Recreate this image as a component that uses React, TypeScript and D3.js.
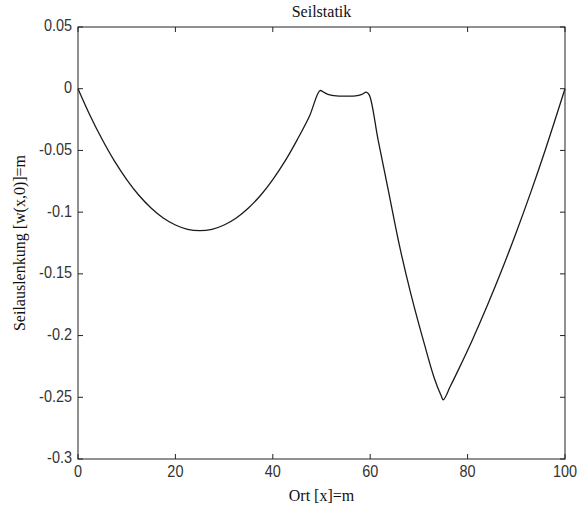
import React from "react";
import * as d3 from "d3";

const TITLE = "Seilstatik";
const X_LABEL = "Ort [x]=m";
const Y_LABEL = "Seilauslenkung [w(x,0)]=m";

const xTicks = [0, 20, 40, 60, 80, 100];
const yTicks = [0.05, 0, -0.05, -0.1, -0.15, -0.2, -0.25, -0.3];
const yTickLabels = ["0.05", "0", "-0.05", "-0.1", "-0.15", "-0.2", "-0.25", "-0.3"];

// cable deflection
const xs = [
  0, 2.5, 5, 7.5, 10, 12.5, 15, 17.5, 20, 22.5, 25, 27.5, 30, 32.5, 35, 37.5, 40, 42.5, 45, 47.5, 49.7,
  50.5, 51.5, 53, 55, 57, 58.3, 59.2, 59.8,
  61.6, 63.7, 66, 68.4, 71.2, 73.2, 74.6, 75,
  76.5, 78, 81, 84, 87, 90, 93, 96, 100,
];
const ws = [
  0, -0.0219, -0.0414, -0.0587, -0.0736, -0.0863, -0.0966, -0.1047, -0.1104, -0.1139, -0.115, -0.1139, -0.1104, -0.1047, -0.0966, -0.0863, -0.0736, -0.0587, -0.0414, -0.0225, -0.0015,
  -0.003, -0.0048, -0.0058, -0.006, -0.0058, -0.0045, -0.0028, -0.005,
  -0.041, -0.082, -0.127, -0.167, -0.208, -0.235, -0.249, -0.252,
  -0.2407, -0.2286, -0.2033, -0.1761, -0.1471, -0.1163, -0.0836, -0.049, 0,
];

export default function App() {
  const W = 579, H = 510;
  const left = 78, right = 565, top = 27, bottom = 459;
  const x = d3.scaleLinear().domain([0, 100]).range([left, right]);
  const y = d3.scaleLinear().domain([-0.3, 0.05]).range([bottom, top]);
  const line = d3.line<number>().x((_, i) => x(xs[i])).y((d) => y(d)).curve(d3.curveCatmullRom.alpha(0.5));
  const tickFont = "'Liberation Sans', Arial, sans-serif";
  const serif = "'Liberation Serif', 'DejaVu Serif', serif";
  const tl = 5;
  return (
    <svg width={W} height={H} style={{ position: "absolute", left: 0, top: 0, background: "#fff" }}>
      <rect x={0} y={0} width={W} height={H} fill="#fff" />
      <path d={line(ws) || ""} fill="none" stroke="#1a1a1a" strokeWidth={1.3} />
      <rect x={left} y={top} width={right - left} height={bottom - top} fill="none" stroke="#222" strokeWidth={1} />
      {xTicks.map((t) => (
        <g key={"x" + t}>
          <line x1={x(t)} x2={x(t)} y1={bottom} y2={bottom - tl} stroke="#222" />
          <line x1={x(t)} x2={x(t)} y1={top} y2={top + tl} stroke="#222" />
          <text
            transform={`translate(${x(t)}, 473) scale(0.85, 1)`}
            textAnchor="middle"
            dominantBaseline="middle"
            fontFamily={tickFont}
            fontSize={17}
            fill="#333"
          >
            {t}
          </text>
        </g>
      ))}
      {yTicks.map((t, i) => (
        <g key={"y" + i}>
          <line x1={left} x2={left + tl} y1={y(t)} y2={y(t)} stroke="#222" />
          <line x1={right} x2={right - tl} y1={y(t)} y2={y(t)} stroke="#222" />
          <text
            transform={`translate(${left - 6}, ${y(t)}) scale(0.85, 1)`}
            textAnchor="end"
            dominantBaseline="middle"
            fontFamily={tickFont}
            fontSize={17}
            fill="#333"
          >
            {yTickLabels[i]}
          </text>
        </g>
      ))}
      <text x={(left + right) / 2} y={17} textAnchor="middle" fontFamily={serif} fontSize={16} fill="#111">
        {TITLE}
      </text>
      <text x={(left + right) / 2} y={501} textAnchor="middle" fontFamily={serif} fontSize={16} fill="#111">
        {X_LABEL}
      </text>
      <text
        transform={`translate(25, ${(top + bottom) / 2}) rotate(-90)`}
        textAnchor="middle"
        fontFamily={serif}
        fontSize={16}
        fill="#111"
      >
        {Y_LABEL}
      </text>
    </svg>
  );
}
